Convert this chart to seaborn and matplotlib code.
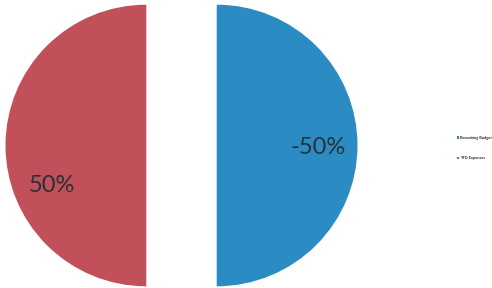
import numpy as np
import matplotlib
matplotlib.use("Agg")
import matplotlib.pyplot as plt
import seaborn as sns

categories = ["Remaining Budget", "YTD Expenses"]
shares = [50, 50]
label_texts = ["-50%", "50%"]
colors = ["#2B8CC4", "#C2505A"]

sns.set_theme(style="white")
plt.rcParams['font.family'] = ['Lato', 'DejaVu Sans']

fig = plt.figure(figsize=(4.92, 2.88), dpi=100)
ax = fig.add_axes([5.5/492, 1.5/288, 352/492, 282/288])

wedges, _ = ax.pie(shares, colors=colors, startangle=90, counterclock=False,
                   explode=[0.25, 0.25], radius=1.0,
                   wedgeprops=dict(linewidth=0))
ax.set_xlim(-1.25, 1.25)
ax.set_ylim(-1, 1)
ax.set_aspect('equal')
ax.axis('off')

# label positions relative to each wedge's own centre
label_angles = [-1, 203]
label_dist = [0.72, 0.73]
for w, txt, ang, d in zip(wedges, label_texts, label_angles, label_dist):
    cx, cy = w.center
    a = np.deg2rad(ang)
    ax.text(cx + d*np.cos(a), cy + d*np.sin(a), txt, ha='center', va='center',
            fontsize=17, color='#2A2F3A')

leg = fig.legend(wedges, categories, loc='center left',
                 bbox_to_anchor=(453/492, 1 - 148/288), frameon=False,
                 prop=dict(size=2.8, weight='bold'),
                 handlelength=0.6, handleheight=0.6,
                 labelspacing=4.3, handletextpad=0.3)

fig.savefig("out.png", dpi=100)
